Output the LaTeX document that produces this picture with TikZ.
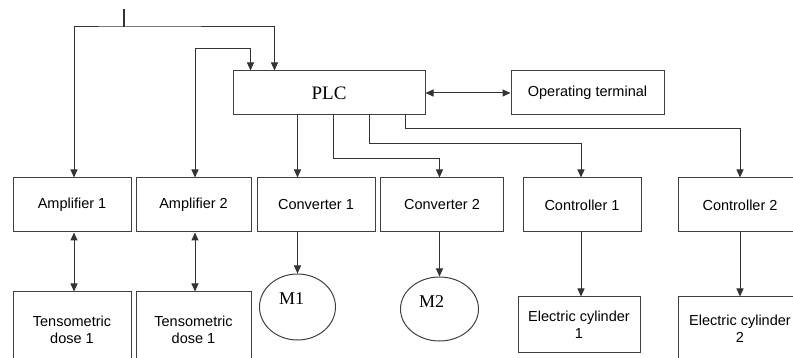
\documentclass[tikz,border=0pt]{standalone}
\usepackage{fontspec}
\setmainfont{Liberation Serif}
\setsansfont{Liberation Sans}
\usetikzlibrary{arrows.meta, shapes.geometric}
\tikzset{block/.style = {shape = rectangle, draw = black!75, line width = 1pt, inner sep = 0pt, align = center, font = \sffamily\fontsize{14.5}{17}\selectfont}}
\tikzset{motor/.style = {shape = ellipse, draw = black!75, line width = 1pt, inner sep = 0pt}}
\tikzset{wire/.style = {draw = black!80, line width = 1pt, -{Triangle[length = 8pt, width = 7pt]}}}
\tikzset{duplex/.style = {wire, {Triangle[length = 8pt, width = 7pt]}-{Triangle[length = 8pt, width = 7pt]}}}

\begin{document}
\begin{tikzpicture}[x = 1pt, y = -1pt]
				\useasboundingbox (0, 0) rectangle (793, 358);
				\clip (0, 0) rectangle (793, 358);

				\node[block, minimum width = 192pt, minimum height = 44pt, font = \rmfamily\fontsize{19}{21}\selectfont] (plc) at (329, 93) {PLC};
				\node[block, minimum width = 153pt, minimum height = 44pt] (term) at (587.5, 93) {Operating terminal};

				\node[block, minimum width = 118pt, minimum height = 54pt] (amp1) at (72, 205) {Amplifier 1};
				\node[block, minimum width = 115pt, minimum height = 54pt] (amp2) at (193.5, 205) {Amplifier 2};
				\node[block, minimum width = 118pt, minimum height = 54pt] (conv1) at (316, 205) {Converter 1};
				\node[block, minimum width = 123pt, minimum height = 54pt] (conv2) at (442, 205) {Converter 2};
				\node[block, minimum width = 118pt, minimum height = 54pt] (ctrl1) at (582, 205) {Controller 1};
				\node[block, minimum width = 124pt, minimum height = 54pt] (ctrl2) at (740, 205) {Controller 2};

				\node[block, minimum width = 118pt, minimum height = 76pt] (tens1) at (72, 330) {Tensometric\\dose 1};
				\node[block, minimum width = 115pt, minimum height = 76pt] (tens2) at (193.5, 330) {Tensometric\\dose 1};
				\node[motor, minimum width = 76pt, minimum height = 66pt, label = {[font = \rmfamily\fontsize{18}{20}\selectfont, xshift = -6pt, yshift = 8pt]center:M1}] (m1) at (297.5, 307) {};
				\node[motor, minimum width = 78pt, minimum height = 64pt, label = {[font = \rmfamily\fontsize{18}{20}\selectfont, xshift = -8pt, yshift = 7pt]center:M2}] (m2) at (439.5, 309) {};
				\node[block, minimum width = 122pt, minimum height = 55pt] (cyl1) at (579, 324.5) {Electric cylinder\\1};
				\node[block, minimum width = 124pt, minimum height = 64pt] (cyl2) at (740, 329) {Electric cylinder\\2};

				\coordinate (feed) at (124, 9);
				\coordinate (split) at (124, 27);
				\coordinate (plcA) at ([xshift = 18pt] plc.north west);
				\coordinate (plcB) at ([xshift = 42pt] plc.north west);
				\coordinate (out1) at ([xshift = 65pt] plc.south west);
				\coordinate (out2) at ([xshift = 101pt] plc.south west);
				\coordinate (out3) at ([xshift = 137pt] plc.south west);
				\coordinate (out4) at ([xshift = 173pt] plc.south west);

				\draw[draw = black!80, line width = 2pt] (feed) -- (split);
				\draw[duplex] ([xshift = 2pt] amp1.north) |- (split) -| (plcB);
				\draw[duplex] ([xshift = 1.5pt] amp2.north) -- ++(0, -129) -| (plcA);
				\draw[duplex] (plc) -- (term);

				\draw[wire] (out1) -- (out1 |- conv1.north);
				\draw[wire] (out2) -- ++(0, 43) -| ([xshift = -2.5pt] conv2.north);
				\draw[wire] (out3) -- ++(0, 28) -| ([xshift = -1pt] ctrl1.north);
				\draw[wire] (out4) -- ++(0, 13) -| (ctrl2.north);

				\draw[duplex] ([xshift = 2pt] amp1.south) -- ([xshift = 2pt] tens1.north);
				\draw[duplex] ([xshift = 1.5pt] amp2.south) -- ([xshift = 1.5pt] tens2.north);
				\draw[wire] (out1 |- conv1.south) -- (m1.north);
				\draw[wire] ([xshift = -2.5pt] conv2.south) -- (m2.north);
				\draw[wire] ([xshift = -1pt] ctrl1.south) -- ([xshift = -1pt] ctrl1.south |- cyl1.north);
				\draw[wire] (ctrl2) -- (cyl2);
			\end{tikzpicture}
\end{document}
